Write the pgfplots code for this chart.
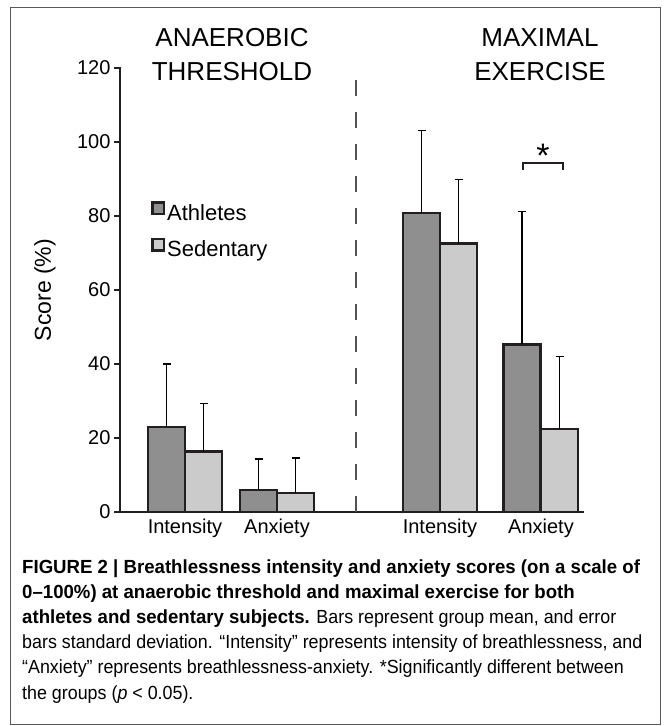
\documentclass[border=0pt]{standalone}
\usepackage{fontspec}
\setmainfont{Liberation Sans}
\newfontfamily\capfont{Liberation Sans}[FakeStretch=0.94, BoldFeatures={FakeStretch=0.98}]
\usepackage{pgfplots}
\pgfplotsset{compat=1.18}
\definecolor{edge}{HTML}{231F20}
\definecolor{athl}{HTML}{8F8F8F}
\definecolor{sedc}{HTML}{CBCBCB}

\pgfplotstableread{
x y e
46.5 23.0 17.0
138.5 6.0 8.3
301.5 80.8 22.4
402.0 45.3 36.0
}\athletes
\pgfplotstableread{
x y e
83.5 16.3 13.0
175.5 5.2 9.4
338.5 72.5 17.3
439.5 22.4 19.6
}\sedentary

\begin{document}
\begin{tikzpicture}[x=1pt,y=1pt]
\useasboundingbox (0,0) rectangle (668,726);
\draw[line width=1pt, color=black!65] (10,1) rectangle (660,718);
\begin{axis}[
  at={(120pt,214pt)}, anchor=south west,
  scale only axis, width=463pt, height=444pt,
  xmin=0, xmax=463, ymin=0, ymax=120,
  axis lines*=left,
  axis line style={line width=2.5pt, color=edge, line cap=rect},
  ytick={0,20,...,120},
  xtick={65,157,320,421},
  xticklabels={Intensity,Anxiety,Intensity,Anxiety},
  x tick style={draw=none},
  y tick style={line width=1.2pt, color=edge},
  tick align=outside, major tick length=6pt,
  ticklabel style={font=\fontsize{20}{24}\selectfont},
  xticklabel style={yshift=3pt},
  /pgf/number format/assume math mode=true,
  ylabel={Score (\%)},
  ylabel style={font=\fontsize{23}{26}\selectfont, at={(axis description cs:-0.162,0.5)}, anchor=center},
  clip=false,
  ybar, bar width=37,
  legend style={at={(axis cs:31,84)}, anchor=north west, draw=none, fill=none,
    font=\fontsize{22}{26}\selectfont, row sep=14pt, inner sep=0pt},
  legend cell align=left,
]
\addplot[ybar, bar shift=0pt, fill=athl, draw=edge, line width=2.5pt,
  legend image code/.code={\draw[fill=athl, draw=edge, line width=2.5pt] (0pt,-1pt) rectangle (11.5pt,10.5pt);},
  error bars/.cd, y dir=plus, y explicit, error mark=|,
  error bar style={line width=1.3pt, color=black},
  error mark options={line width=1.3pt, mark size=4pt, color=black}]
  table[x=x, y=y, y error=e] {\athletes};
\addlegendentry{Athletes}
\addplot[ybar, bar shift=0pt, fill=sedc, draw=edge, line width=2.5pt,
  legend image code/.code={\draw[fill=sedc, draw=edge, line width=2.5pt] (0pt,-1pt) rectangle (11.5pt,10.5pt);},
  error bars/.cd, y dir=plus, y explicit, error mark=|,
  error bar style={line width=1.3pt, color=black},
  error mark options={line width=1.3pt, mark size=4pt, color=black}]
  table[x=x, y=y, y error=e] {\sedentary};
\addlegendentry{Sedentary}
\draw[line width=1.5pt, color=black!68, dash pattern=on 16pt off 16pt] (axis cs:236,0) -- (axis cs:236,117.3);
\draw[line width=2pt, color=edge] (axis cs:403,92.5) -- (axis cs:403,94.3) -- (axis cs:443,94.3) -- (axis cs:443,92.5);
\node[font=\fontsize{34}{34}\selectfont, anchor=base, inner sep=0] at (axis cs:423,93.2) {*};
\end{axis}
\node[font=\fontsize{26}{30}\selectfont, anchor=base] at (232,679) {ANAEROBIC};
\node[font=\fontsize{26}{30}\selectfont, anchor=base] at (232,645) {THRESHOLD};
\node[font=\fontsize{26}{30}\selectfont, anchor=base] at (540,679) {MAXIMAL};
\node[font=\fontsize{26}{30}\selectfont, anchor=base] at (540,645) {EXERCISE};
\begin{scope}[every node/.style={anchor=base west, inner sep=0, font=\capfont\fontsize{19}{25}\selectfont}]
\node at (22,152) {\textbf{FIGURE 2 | Breathlessness intensity and anxiety scores (on a scale of}};
\node at (22,127) {\textbf{0–100\%) at anaerobic threshold and maximal exercise for both}};
\node at (22,102) {\textbf{athletes and sedentary subjects.} Bars represent group mean, and error};
\node at (22,77) {bars standard deviation. “Intensity” represents intensity of breathlessness, and};
\node at (22,52) {“Anxiety” represents breathlessness-anxiety. *Significantly different between};
\node at (22,27) {the groups (\textit{p} < 0.05).};
\end{scope}
\end{tikzpicture}
\end{document}
